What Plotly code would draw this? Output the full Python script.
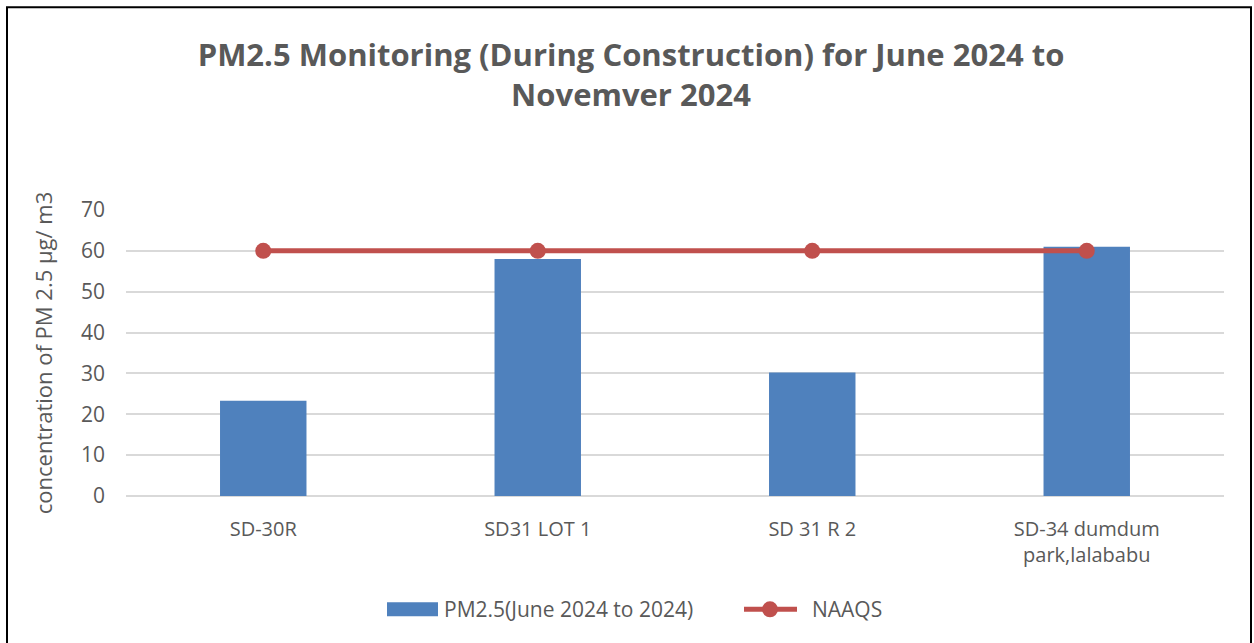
import plotly.graph_objects as go

categories = ["SD-30R", "SD31 LOT 1", "SD 31 R 2", "SD-34 dumdum<br>park,lalababu"]
pm25 = [23.3, 58.0, 30.2, 61.0]
naaqs = [60, 60, 60, 60]
y_ticks = [0, 10, 20, 30, 40, 50, 60, 70]
bar_name = "PM2.5(June 2024 to 2024)"
line_name = "NAAQS"

grey = "#595959"
bar_color = "#4F81BD"
line_color = "#C0504D"
font = "Open Sans"

L, R, T, B = 126, 30, 210, 146.5
W, H = 1254, 643
pw, ph = W - L - R, H - T - B

def px(x):
    return (x - L) / pw

def py(y):
    return (H - B - y) / ph

fig = go.Figure()
fig.add_trace(go.Bar(x=categories, y=pm25, name=bar_name, showlegend=False,
                     marker=dict(color=bar_color, line=dict(width=0)), width=0.315))
fig.add_trace(go.Scatter(x=categories, y=naaqs, name=line_name, mode="lines+markers",
                         showlegend=False, cliponaxis=False,
                         line=dict(color=line_color, width=5),
                         marker=dict(color=line_color, size=16)))

# custom legend (Excel style)
leg_y = 610
shapes = [
    dict(type="rect", xref="paper", yref="paper", x0=px(387), x1=px(438),
         y0=py(617), y1=py(603), fillcolor=bar_color, line=dict(width=0)),
    dict(type="line", xref="paper", yref="paper", x0=px(744), x1=px(797),
         y0=py(leg_y), y1=py(leg_y), line=dict(color=line_color, width=5)),
    dict(type="circle", xref="paper", yref="paper", x0=px(762), x1=px(778),
         y0=py(618), y1=py(602), fillcolor=line_color, line=dict(width=0)),
    dict(type="path", xref="paper", yref="paper",
         path=f"M {px(7)},{py(660)} L {px(7)},{py(7)} L {px(1251)},{py(7)} L {px(1251)},{py(660)}",
         line=dict(color="black", width=2)),
]
annotations = [
    dict(text=bar_name, xref="paper", yref="paper", x=px(442), y=py(leg_y),
         xanchor="left", yanchor="middle", showarrow=False,
         font=dict(size=21, color=grey, family=font)),
    dict(text=line_name, xref="paper", yref="paper", x=px(810), y=py(leg_y),
         xanchor="left", yanchor="middle", showarrow=False,
         font=dict(size=21, color=grey, family=font)),
]

fig.update_layout(
    width=W, height=H,
    margin=dict(l=L, r=R, t=T, b=B),
    paper_bgcolor="white", plot_bgcolor="white",
    font=dict(family=font, color=grey, size=18),
    showlegend=False,
    title=dict(text="<b>PM2.5 Monitoring (During Construction) for June 2024 to<br>Novemver 2024</b>",
               x=px(631), xanchor="center", xref="paper", y=(H - 66) / H, yanchor="middle",
               font=dict(size=31, color=grey, family=font)),
    xaxis=dict(showline=False, ticks="", tickfont=dict(size=20, color=grey),
               showgrid=False, fixedrange=True, ticklabelstandoff=19),
    yaxis=dict(range=[0, 70], tickvals=y_ticks, showgrid=True, gridcolor="#D9D9D9",
               gridwidth=1.5, zeroline=True, zerolinecolor="#D9D9D9", zerolinewidth=1.5,
               tickfont=dict(size=21, color=grey), ticks="", ticklabelstandoff=20,
               title=dict(text="concentration of PM 2.5 µg/ m3", font=dict(size=22, color=grey),
                          standoff=22)),
    shapes=shapes,
    annotations=annotations,
)

fig.write_html("out.html", config={"displayModeBar": False},
               post_script="document.body.style.margin='0';")
